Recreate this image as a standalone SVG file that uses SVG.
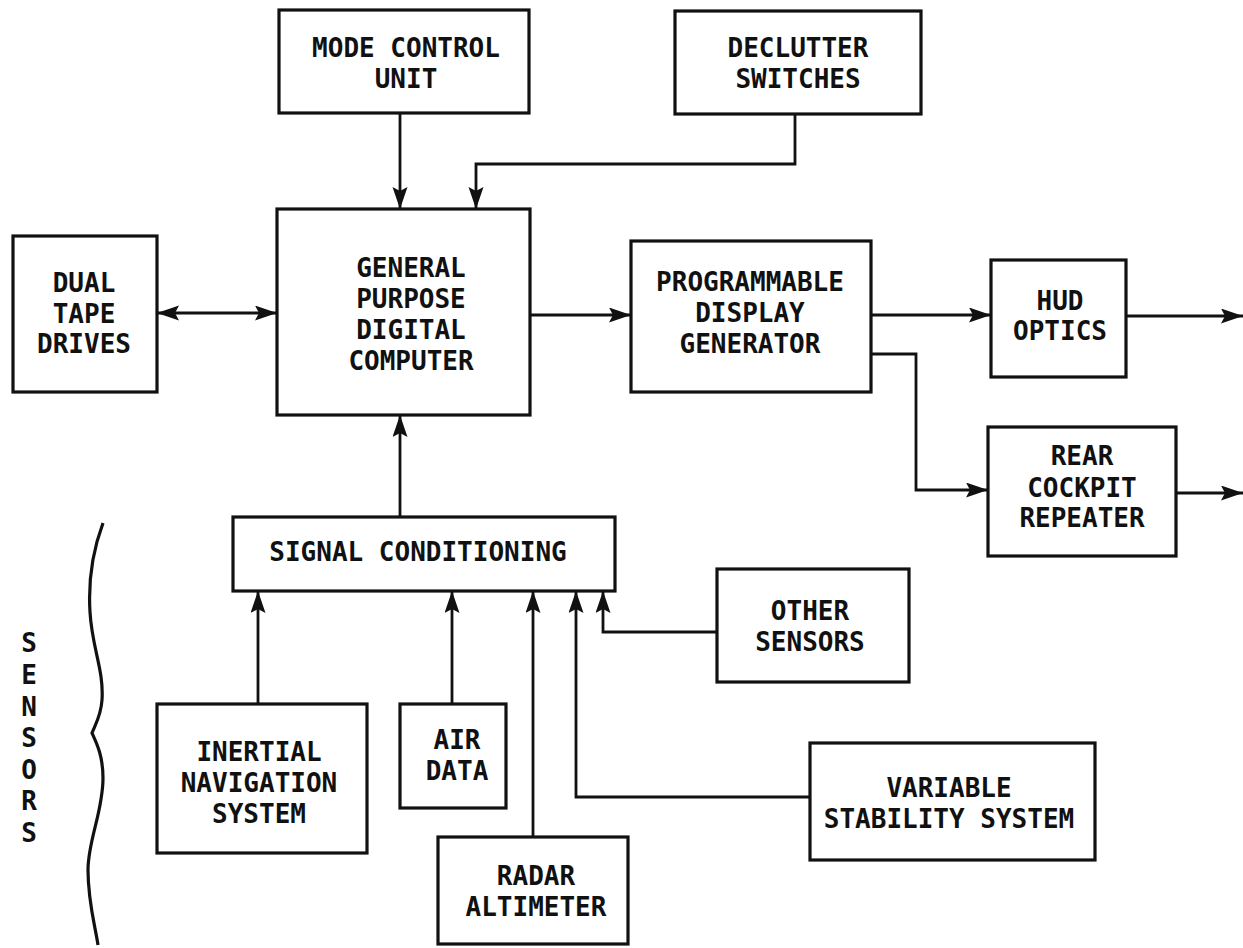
<svg xmlns="http://www.w3.org/2000/svg" width="1243" height="948" viewBox="0 0 1243 948">
<style>
.box{fill:#fff;stroke:#111;stroke-width:3.2}
.lbl{font-family:"DejaVu Sans Mono","Liberation Mono",monospace;font-size:26px;font-weight:bold;text-anchor:middle;fill:#111}
.con{fill:none;stroke:#111;stroke-width:2.8}
.arr{marker-end:url(#ah)}
</style>
<defs>
<marker id="ah" markerUnits="userSpaceOnUse" markerWidth="24" markerHeight="16" refX="22" refY="7.5" orient="auto-start-reverse">
<path d="M0,0 L22,7.5 L0,15 L4,7.5 z" fill="#111"/>
</marker>
</defs>
<rect width="1243" height="948" fill="#fff"/>
<g id="connectors">
<line class="con arr" x1="400" y1="113" x2="400" y2="209"/>
<path class="con arr" d="M795,114 V164 H476 V209"/>
<line class="con arr" x1="157" y1="313" x2="277" y2="313" marker-start="url(#ah)"/>
<line class="con arr" x1="530" y1="315" x2="631" y2="315"/>
<line class="con arr" x1="871" y1="315" x2="991" y2="315"/>
<line class="con arr" x1="1126" y1="316" x2="1243" y2="316"/>
<path class="con arr" d="M871,354 H916 V490 H988"/>
<line class="con arr" x1="1176" y1="493" x2="1243" y2="493"/>
<line class="con arr" x1="400" y1="517" x2="400" y2="415"/>
<line class="con arr" x1="258" y1="704" x2="258" y2="591"/>
<line class="con arr" x1="452" y1="704" x2="452" y2="591"/>
<line class="con arr" x1="533" y1="837" x2="533" y2="591"/>
<path class="con arr" d="M810,797 H576 V591"/>
<path class="con arr" d="M717,632 H603 V591"/>
</g>
<g id="mcu"><rect class="box" x="279" y="10" width="250" height="103"/>
<text class="lbl" x="406" y="57">MODE CONTROL</text><text class="lbl" x="406" y="88">UNIT</text></g>
<g id="declutter"><rect class="box" x="675" y="11" width="246" height="103"/>
<text class="lbl" x="798" y="57">DECLUTTER</text><text class="lbl" x="798" y="88">SWITCHES</text></g>
<g id="tape"><rect class="box" x="13" y="236" width="144" height="156"/>
<text class="lbl" x="84" y="292">DUAL</text><text class="lbl" x="84" y="323">TAPE</text><text class="lbl" x="84" y="353">DRIVES</text></g>
<g id="computer"><rect class="box" x="277" y="209" width="253" height="206"/>
<text class="lbl" x="411" y="277">GENERAL</text><text class="lbl" x="411" y="308">PURPOSE</text><text class="lbl" x="411" y="339">DIGITAL</text><text class="lbl" x="411" y="370">COMPUTER</text></g>
<g id="pdg"><rect class="box" x="631" y="241" width="240" height="151"/>
<text class="lbl" x="750" y="291">PROGRAMMABLE</text><text class="lbl" x="750" y="322">DISPLAY</text><text class="lbl" x="750" y="353">GENERATOR</text></g>
<g id="hud"><rect class="box" x="991" y="260" width="135" height="117"/>
<text class="lbl" x="1060" y="310">HUD</text><text class="lbl" x="1060" y="340">OPTICS</text></g>
<g id="rear"><rect class="box" x="988" y="427" width="188" height="129"/>
<text class="lbl" x="1082" y="465">REAR</text><text class="lbl" x="1082" y="497">COCKPIT</text><text class="lbl" x="1082" y="527">REPEATER</text></g>
<g id="signal"><rect class="box" x="233" y="517" width="382" height="74"/>
<text class="lbl" x="418" y="561">SIGNAL CONDITIONING</text></g>
<g id="other"><rect class="box" x="717" y="569" width="192" height="113"/>
<text class="lbl" x="810" y="620">OTHER</text><text class="lbl" x="810" y="651">SENSORS</text></g>
<g id="ins"><rect class="box" x="157" y="704" width="210" height="149"/>
<text class="lbl" x="259" y="761">INERTIAL</text><text class="lbl" x="259" y="792">NAVIGATION</text><text class="lbl" x="259" y="823">SYSTEM</text></g>
<g id="air"><rect class="box" x="400" y="704" width="106" height="104"/>
<text class="lbl" x="457" y="749">AIR</text><text class="lbl" x="457" y="780">DATA</text></g>
<g id="radar"><rect class="box" x="438" y="837" width="190" height="107"/>
<text class="lbl" x="536" y="885">RADAR</text><text class="lbl" x="536" y="916">ALTIMETER</text></g>
<g id="vss"><rect class="box" x="810" y="743" width="285" height="117"/>
<text class="lbl" x="949" y="797">VARIABLE</text><text class="lbl" x="949" y="828">STABILITY SYSTEM</text></g>
<g id="sensors">
<path d="M103,523 C93,550 88,580 90,612 C92,648 104,670 102,700 C101,716 95,725 92,733 C96,742 103,755 103,778 C103,812 88,840 88,870 C88,902 95,925 98,945" fill="none" stroke="#111" stroke-width="3.2"/>
<text class="lbl" x="29" y="652">S</text><text class="lbl" x="29" y="684">E</text><text class="lbl" x="29" y="716">N</text><text class="lbl" x="29" y="747">S</text><text class="lbl" x="29" y="779">O</text><text class="lbl" x="29" y="810">R</text><text class="lbl" x="29" y="842">S</text>
</g>
</svg>
